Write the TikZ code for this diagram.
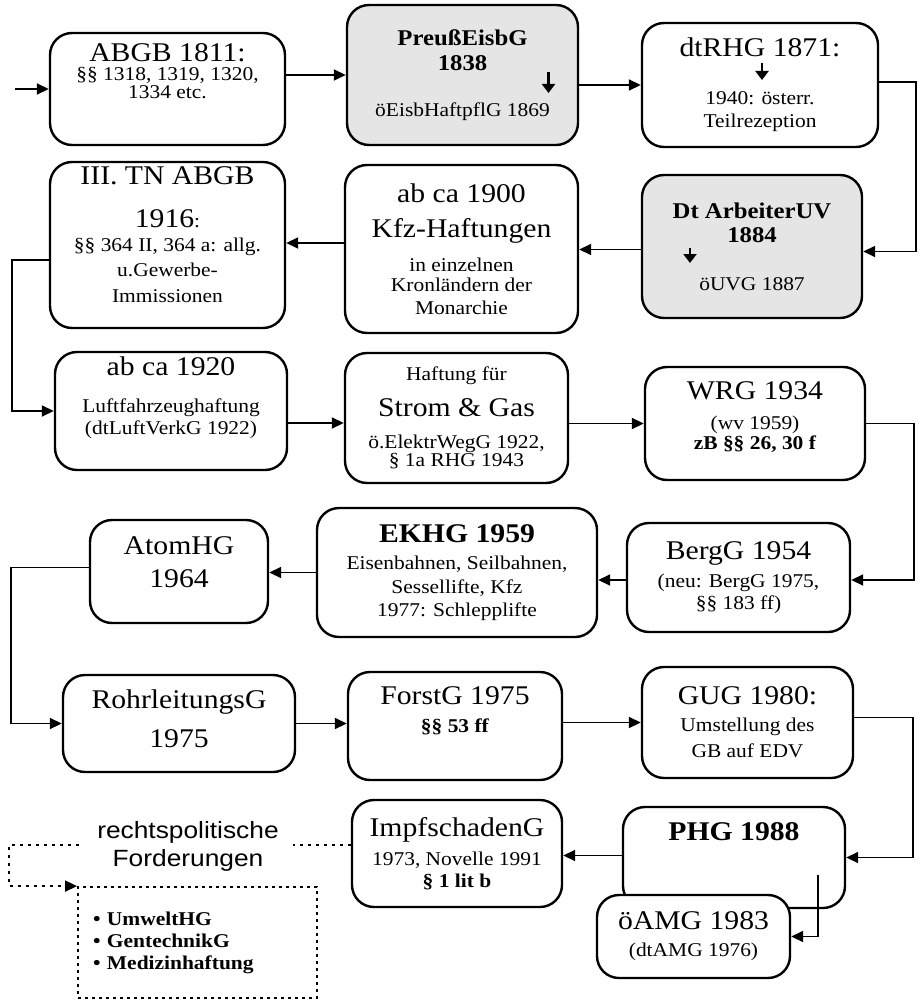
\documentclass[tikz,border=0pt]{standalone}
\usepackage{fontspec}
\setmainfont[FakeStretch=1.1]{Liberation Serif}
\newfontfamily\sansf[FakeStretch=1.12]{Liberation Sans}
\usetikzlibrary{arrows.meta}
\newcommand{\lawhead}{\fontsize{27}{31}\selectfont}
\newcommand{\lawsub}{\fontsize{19.5}{21}\selectfont\lineskiplimit=-100pt\relax}
\newcommand{\lawbold}{\fontsize{22.5}{25}\selectfont\bfseries}

\begin{document}
\begin{tikzpicture}[x=1pt,y=-1pt]
    \tikzstyle{law}=[draw=black,line width=2.4pt,rounded corners=22pt,fill=white,align=center,inner sep=3pt,font=\lawsub]
    \tikzstyle{shaded}=[law,fill=black!10]
    \tikzstyle{edge}=[draw,line width=1.8pt,-{Triangle[length=12pt,width=11pt]}]
    \tikzstyle{down}=[draw,line width=2.6pt,-{Triangle[length=9pt,width=13pt]}]
    \tikzstyle{dotedge}=[draw,line width=1.8pt,dash pattern=on 3pt off 5pt,-{Triangle[length=12pt,width=11pt]}]
    \tikzstyle{wish}=[draw,line width=1.8pt,dash pattern=on 3pt off 4pt,align=left,text width=209pt,inner xsep=15pt,font=\fontsize{19.5}{22}\selectfont\bfseries]
    \useasboundingbox (0,0) rectangle (921,1000);

    % row 1
    \node [law,minimum width=235pt,minimum height=112pt] (abgb) at (167.5,89) {{\lawhead ABGB 1811:}\\[-2pt] §§ 1318, 1319, 1320,\\[-3pt] 1334 etc.\\[14.5pt]~};
    \node [shaded,minimum width=231pt,minimum height=140pt] (preuss) at (462.5,75) {{\lawbold PreußEisbG}\\[4pt] {\lawbold 1838}\\[25pt] öEisbHaftpflG 1869};
    \node [law,minimum width=236pt,minimum height=124pt] (dtrhg) at (760,85) {{\lawhead dtRHG 1871:}\\[27pt] 1940: österr.\\[2pt] Teilrezeption};

    % row 2
    \node [law,minimum width=235pt,minimum height=166pt] (tnabgb) at (167.5,245) {{\lawhead III. TN ABGB}\\[22pt] {\lawhead 1916}:\\[3pt] §§ 364 II, 364 a: allg.\\[4pt] u.Gewerbe-\\[5pt] Immissionen\\[-0.7pt]~};
    \node [law,minimum width=233pt,minimum height=168pt] (kfz) at (461.5,249) {{\lawhead ab ca 1900}\\[14pt] {\lawhead Kfz-Haftungen}\\[13pt] in einzelnen\\[-1pt] Kronländern der\\[2pt] Monarchie};
    \node [shaded,minimum width=220pt,minimum height=143pt] (arbeiter) at (752,246.5) {{\lawbold Dt ArbeiterUV}\\[3pt] {\lawbold 1884}\\[27pt] öUVG 1887};

    % row 3
    \node [law,minimum width=232pt,minimum height=118pt] (luft) at (171,411) {{\lawhead ab ca 1920}\\[16pt] Luftfahrzeughaftung\\[1pt] (dtLuftVerkG 1922)\\[10.4pt]~};
    \node [law,minimum width=223pt,minimum height=130pt] (strom) at (456.5,418) {Haftung für\\[15pt] {\lawhead Strom \& Gas}\\[11pt] ö.ElektrWegG 1922,\\[-3pt] § 1a RHG 1943};
    \node [law,minimum width=220pt,minimum height=113pt] (wrg) at (755,423.5) {{\lawhead WRG 1934}\\[9pt] (wv 1959)\\[-1pt] \textbf{zB §§ 26, 30 f}\\[-5.7pt]~};

    % row 4
    \node [law,minimum width=178pt,minimum height=103pt] (atom) at (179,571.5) {{\lawhead AtomHG}\\[12pt] {\lawhead 1964}\\[-2.6pt]~};
    \node [law,minimum width=280pt,minimum height=129pt] (ekhg) at (457,572.5) {{\lawhead\bfseries EKHG 1959}\\[6pt] Eisenbahnen, Seilbahnen,\\[3pt] Sessellifte, Kfz\\[2pt] 1977: Schlepplifte};
    \node [law,minimum width=223pt,minimum height=109pt] (bergg) at (738.5,577.5) {{\lawhead BergG 1954}\\[7pt] (neu: BergG 1975,\\[1pt] §§ 183 ff)};

    % row 5
    \node [law,minimum width=232pt,minimum height=97pt] (rohr) at (179,723.5) {{\lawhead RohrleitungsG}\\[18pt] {\lawhead 1975}\\[-10.6pt]~};
    \node [law,minimum width=214pt,minimum height=108pt] (forst) at (455,726) {{\lawhead ForstG 1975}\\[7pt] \textbf{§§ 53 ff}\\[11.4pt]~};
    \node [law,minimum width=211pt,minimum height=111pt] (gug) at (747.5,722.5) {{\lawhead GUG 1980:}\\[6pt] Umstellung des\\[5pt] GB auf EDV};

    % row 6
    \node [law,minimum width=210pt,minimum height=107pt] (impf) at (457,853.5) {{\lawhead ImpfschadenG}\\[8pt] 1973, Novelle 1991\\[1pt] \textbf{§ 1 lit b}};
    \node [law,minimum width=222pt,text height=20pt,text depth=55pt,inner ysep=13pt] (phg) at (734,857.5) {\lawhead\bfseries PHG 1988};
    \node [law,minimum width=193pt,minimum height=83pt] (amg) at (693.5,936.5) {{\lawhead öAMG 1983}\\[6pt] (dtAMG 1976)};

    \node [wish,minimum width=239pt,minimum height=111pt] (wunsch) at (197.5,942.5) {\textbullet\ UmweltHG\\ \textbullet\ GentechnikG\\ \textbullet\ Medizinhaftung};

    % small arrows in the boxes
    \draw [down] ([shift={(86,-3)}]preuss.center) -- ++(0,21);
    \draw [down] ([shift={(2,-22)}]dtrhg.center) -- ++(0,17);
    \draw [down] ([shift={(-62,1.5)}]arbeiter.center) -- ++(0,15);

    % connectors
    \coordinate (start) at (15,89);
    \path[edge] (start) -- (abgb.west);
    \path[edge] (abgb.east |- preuss.west) -- (preuss.west);
    \path[edge] (preuss.east |- dtrhg.west) -- (dtrhg.west);
    \path[edge] ([yshift=3pt]dtrhg.east) -- ++(37,0) |- ([yshift=-5pt]arbeiter.east);
    \path[edge] ([yshift=-3pt]arbeiter.west) -- ([yshift=-3pt]arbeiter.west -| kfz.east);
    \path[edge] ([yshift=6pt]kfz.west) -- ([yshift=6pt]kfz.west -| tnabgb.east);
    \path[edge] ([yshift=-15pt]tnabgb.west) -- ++(-37,0) |- (luft.west);
    \path[edge] ([yshift=-12pt]luft.east) -- ([yshift=-12pt]luft.east -| strom.west);
    \path[edge] (strom.east |- wrg.west) -- (wrg.west);
    \path[edge] (wrg.east) -- ++(48,0) |- ([yshift=-2.5pt]bergg.east);
    \path[edge] ([yshift=-2.5pt]bergg.west) -- ([yshift=-2.5pt]bergg.west -| ekhg.east);
    \path[edge] (ekhg.west) -- (ekhg.west -| atom.east);
    \path[edge] ([yshift=4pt]atom.west) -- ++(-78,0) |- (rohr.west);
    \path[edge] (rohr.east) -- (rohr.east -| forst.west);
    \path[edge] (gug.west -| forst.east) -- (gug.west);
    \path[edge] ([yshift=5pt]gug.east) -- ++(59,0) |- (phg.east);
    \path[edge] ([yshift=2pt]phg.west) -- ([yshift=2pt]phg.west -| impf.east);
    \coordinate (phgin) at (818,875);
    \path[edge] (phgin) |- (amg.east);

    % demands
    \path[dotedge] ([yshift=8.5pt]impf.west) -- ++(-342,0) |- (wunsch.north west);
    \node [fill=white,inner xsep=14pt,inner ysep=1pt,align=center,font=\sansf\fontsize{23.5}{28}\selectfont] (ruf) at (188,846) {rechtspolitische\\ Forderungen};
\end{tikzpicture}
\end{document}
